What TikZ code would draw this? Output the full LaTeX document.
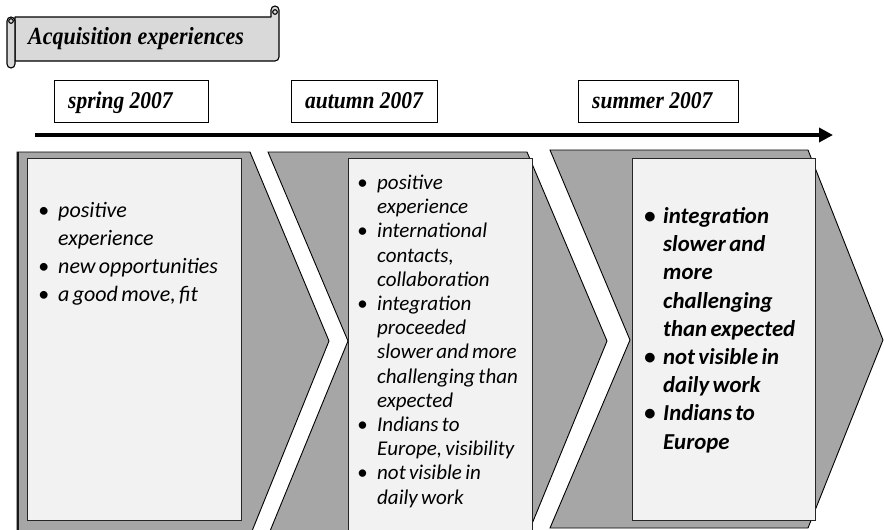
\documentclass[tikz,border=0pt]{standalone}
\usepackage{fontspec}
\setmainfont{Carlito}
\newfontfamily\headfont{Liberation Serif}
\usetikzlibrary{arrows.meta}

\definecolor{chevgray}{HTML}{A6A6A6}
\definecolor{panelfill}{HTML}{F2F2F2}
\definecolor{scrollfill}{HTML}{D9D9D9}

% bullet list with the bullet flush left and a fixed text indent
\newenvironment{dotlist}[1]{%
  \begin{list}{\textbullet}{%
    \setlength{\leftmargin}{#1}\setlength{\labelwidth}{#1}%
    \setlength{\labelsep}{0pt}\setlength{\itemindent}{0pt}%
    \setlength{\itemsep}{0pt}\setlength{\parsep}{0pt}%
    \setlength{\topsep}{0pt}\setlength{\partopsep}{0pt}%
    \renewcommand{\makelabel}[1]{##1\hfil}}\raggedright}%
  {\end{list}}

\tikzset{
  chev/.style={fill=chevgray, draw=black, line width=0.9pt, line join=miter},
  panel/.style={fill=panelfill, draw=black!85, line width=1.4pt},
  datebox/.style={draw=black, line width=0.9pt, fill=white, anchor=north west, inner sep=0pt},
  datetext/.style={anchor=base west, inner sep=0pt,
    font=\headfont\bfseries\itshape\fontsize{21.5}{24}\selectfont},
  scroll/.style={fill=scrollfill, draw=black, line width=1.1pt, line join=round},
  timeline/.style={line width=3.6pt, -{Triangle[length=14pt,width=14pt]}},
  listtext/.style={anchor=north west, inner sep=0pt, align=left},
}

\begin{document}
\begin{tikzpicture}[x=1pt,y=-1pt]
\useasboundingbox (0,0) rectangle (884,530);

% ---- title scroll ----
\draw[scroll] (15,17) -- (271,17) -- (271,10)
  arc[start angle=180, end angle=360, radius=4] -- (279,57)
  arc[start angle=0, end angle=90, radius=4] -- (15,61) -- cycle;
\draw[scroll] (7,21) -- (7,64) arc[start angle=180, end angle=0, radius=4]
  -- (15,21) arc[start angle=0, end angle=-180, radius=4] -- cycle;
\draw[scroll] (275,12) circle[radius=2.3];
\draw[scroll] (11,21) circle[radius=2.3];
\node[anchor=base west, inner sep=0pt] (title) at (28,44)
  {\scalebox{1}[1.12]{\headfont\bfseries\itshape\fontsize{22}{26}\selectfont Acquisition experiences}};

% ---- period labels ----
\node[datebox, minimum width=154pt, minimum height=42pt] (d1) at (54,80) {};
\node[datebox, minimum width=146pt, minimum height=42pt] (d2) at (291,80) {};
\node[datebox, minimum width=160pt, minimum height=42pt] (d3) at (578,80) {};
\node[datetext] (t1) at ([xshift=14pt,yshift=14pt]d1.south west) {\scalebox{1}[1.12]{spring 2007}};
\node[datetext] (t2) at ([xshift=14pt,yshift=14pt]d2.south west) {\scalebox{1}[1.12]{autumn 2007}};
\node[datetext] (t3) at ([xshift=14pt,yshift=14pt]d3.south west) {\scalebox{1}[1.12]{summer 2007}};

% ---- time axis ----
\coordinate (tl-start) at (35,135);
\coordinate (tl-end) at (833,135);
\draw[timeline] (tl-start) -- (tl-end);

% ---- process chevrons ----
\draw[chev] (17,152) -- (250,152) -- (329,341) -- (250,536) -- (17,536) -- cycle;
\draw[chev] (268,152) -- (527,152) -- (607,341) -- (527,536) -- (268,536) -- (348,341) -- cycle;
\draw[chev] (550,150) -- (808,150) -- (883,340) -- (808,528) -- (550,528) -- (630,340) -- cycle;
\draw[black!90, line width=2.2pt] (18,152) -- (18,536);

% ---- content panels ----
\node[panel, anchor=north west, minimum width=214pt, minimum height=362pt, inner sep=0pt] (p1) at (27,158) {};
\node[panel, anchor=north west, minimum width=184pt, minimum height=372pt, inner sep=0pt] (p2) at (348,158) {};
\node[panel, anchor=north west, minimum width=183pt, minimum height=362pt, inner sep=0pt] (p3) at (632,158) {};

\node[listtext, text width=200pt] (l1) at ([xshift=11pt,yshift=-31pt]p1.north west) {%
  \fontsize{22}{28}\selectfont\itshape
  \begin{dotlist}{20pt}
  \item positive\\ experience
  \item new opportunities
  \item a good move, fit
  \end{dotlist}};

\node[listtext, text width=176pt] (l2) at ([xshift=9pt,yshift=-7pt]p2.north west) {%
  \fontsize{21}{24.2}\selectfont\itshape
  \begin{dotlist}{20pt}
  \item positive\\ experience
  \item international\\ contacts,\\ collaboration
  \item integration\\ proceeded\\ slower and more\\ challenging than\\ expected
  \item Indians to\\ Europe, visibility
  \item not visible in\\ daily work
  \end{dotlist}};

\node[listtext, text width=176pt] (l3) at ([xshift=12pt,yshift=-37pt]p3.north west) {%
  \fontsize{22.8}{28.2}\selectfont\bfseries\itshape
  \begin{dotlist}{19pt}
  \item integration\\ slower and\\ more\\ challenging\\ than expected
  \item not visible in\\ daily work
  \item Indians to\\ Europe
  \end{dotlist}};
\end{tikzpicture}
\end{document}
